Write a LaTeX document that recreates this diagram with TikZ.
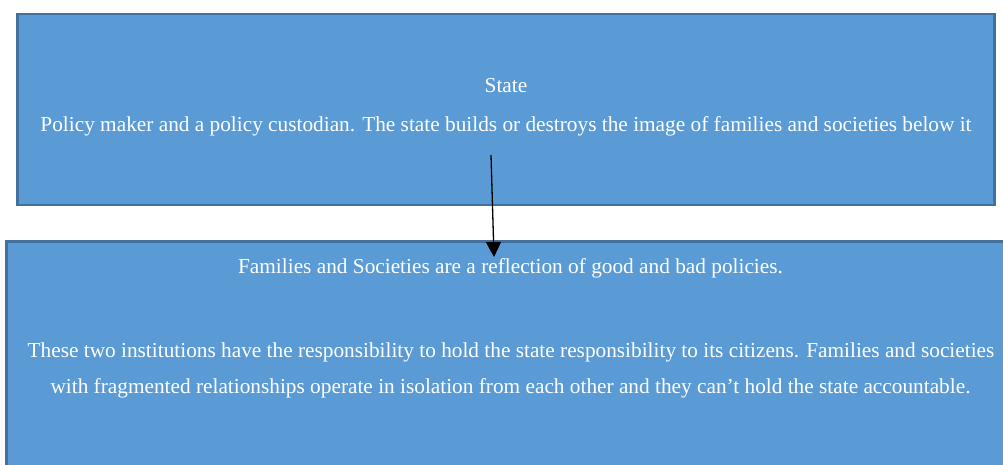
\documentclass[tikz,border=0pt]{standalone}
\usepackage{fontspec}
\setmainfont{Liberation Serif}
\usetikzlibrary{arrows.meta}
\definecolor{boxfill}{HTML}{5B9BD5}
\definecolor{boxline}{HTML}{41719C}
\tikzset{
  panel/.style={draw=boxline, line width=2.5pt, fill=boxfill},
  label/.style={anchor=base, text=white, font=\fontsize{21.3}{25}\selectfont, inner sep=0pt},
  link/.style={-{Triangle[length=15pt,width=15pt]}, line width=1.3pt, black}
}
\begin{document}
\begin{tikzpicture}[x=1pt,y=-1pt]
  \useasboundingbox (0,0) rectangle (1003,464);
  \clip (0,0) rectangle (1003,464);
  % upper panel: the state
  \draw[panel] (17.5,14) rectangle (994.5,205);
  % lower panel: families and societies
  \draw[panel] (6.5,241.5) rectangle (1015,475);
  \node[label] (state) at (506,92) {State};
  \node[label] (role) at (506,131) {Policy maker and a policy custodian. The state builds or destroys the image of families and societies below it};
  \node[label] (fam) at (510.5,273) {Families and Societies are a reflection of good and bad policies.};
  \node[label] (inst1) at (511,357) {These two institutions have the responsibility to hold the state responsibility to its citizens. Families and societies};
  \node[label] (inst2) at (510.5,393) {with fragmented relationships operate in isolation from each other and they can’t hold the state accountable.};
  % influence of the state on families and societies
  \coordinate (from) at (491,155);
  \coordinate (to) at (494,257);
  \draw[link] (from) -- (to);
\end{tikzpicture}
\end{document}
